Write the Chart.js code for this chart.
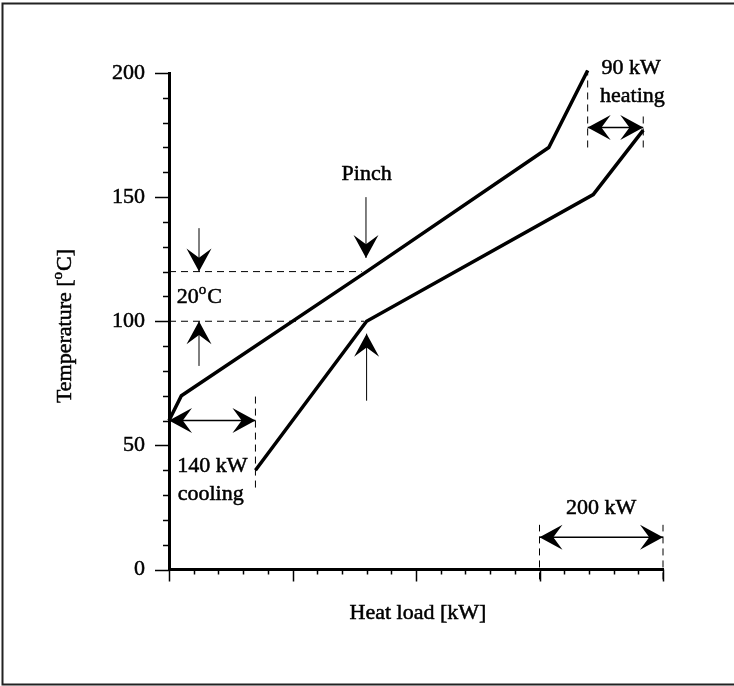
<!DOCTYPE html>
<html>
<head>
<meta charset="utf-8">
<script src="https://cdn.jsdelivr.net/npm/chart.js@4.4.1/dist/chart.umd.min.js"></script>
<style>
  html, body { margin: 0; padding: 0; background: #fff; }
  #wrap { width: 734px; height: 686px; }
</style>
</head>
<body>
<div id="wrap"><canvas id="pinch" width="734" height="686"></canvas></div>
<script>
// composite curves (heat load kW, temperature degC)
const hotLoad = [0, 20, 320, 615, 678];
const hotTemp = [60, 70, 120, 170, 201];
const coldLoad = [140, 320, 687, 768];
const coldTemp = [40, 100, 151, 177];

// labelled temperatures on the y axis
const tempTicks = [0, 50, 100, 150, 200];

// dashed guides, [from, to]
const guideLoad = [[0, 312], [0, 316], [140, 140], [678, 678], [768, 768], [600, 600], [800, 800]];
const guideTemp = [[120, 120], [100, 100], [33, 70], [170, 201], [170, 183], [-4, 18], [-4, 18]];

// arrows: start and end as [load, temp]; the first three have heads at both ends
const arrowStart = [[0, 60], [678, 178], [600, 13], [48.6, 137.5], [48.6, 82], [319, 150], [320, 68]];
const arrowEnd = [[140, 60], [768, 178], [800, 13], [48.6, 120], [48.6, 100], [319, 125.5], [320, 95]];
const doubleArrows = 3;

// text notes
const noteText = ['Pinch', '140 kW', 'cooling', '90 kW', 'heating', '200 kW'];
const noteLoad = [320, 13.4, 14, 700.6, 698, 700];
const noteTemp = [156.8, 39.4, 28, 199.6, 188.3, 22.2];
const noteAlign = ['center', 'left', 'left', 'left', 'left', 'center'];

const ink = '#000';
const serif = '"Liberation Serif", "Times New Roman", serif';
const textSize = 22;

function series(load, temp, width, dash) {
  return {
    data: load.map((x, i) => ({ x: x, y: temp[i] })),
    borderColor: ink,
    borderWidth: width,
    borderDash: dash || [],
    pointRadius: 0,
    showLine: true,
    fill: false,
    tension: 0,
    clip: false
  };
}

function arrowHead(ctx, x, y, ang) {
  const L = 23, W = 12.5;
  ctx.save();
  ctx.translate(x, y);
  ctx.rotate(ang);
  ctx.beginPath();
  ctx.moveTo(0, 0);
  ctx.lineTo(-L, -W);
  ctx.lineTo(-L * 0.6, 0);
  ctx.lineTo(-L, W);
  ctx.closePath();
  ctx.fill();
  ctx.restore();
}

// filled text with a faint outline so it reads as heavy as the lines
function ink_text(ctx, txt, x, y) {
  ctx.fillText(txt, x, y);
  ctx.strokeText(txt, x, y);
}

// text with a small raised "o" in the middle, e.g. 20 oC
function supText(ctx, parts, x, y, align) {
  const big = textSize + 'px ' + serif, small = '15px ' + serif;
  ctx.font = big;
  const w0 = ctx.measureText(parts[0]).width;
  const w2 = ctx.measureText(parts[2]).width;
  ctx.font = small;
  const w1 = ctx.measureText(parts[1]).width + 1;
  const sx = align === 'center' ? x - (w0 + w1 + w2) / 2 : x;
  ctx.textAlign = 'left';
  ctx.font = big;
  ink_text(ctx, parts[0], sx, y);
  ctx.font = small;
  ink_text(ctx, parts[1], sx + w0, y - 9);
  ctx.font = big;
  ink_text(ctx, parts[2], sx + w0 + w1, y);
}

const decor = {
  id: 'decor',
  beforeDraw(chart) {
    const ctx = chart.ctx;
    ctx.save();
    ctx.fillStyle = '#fff';
    ctx.fillRect(0, 0, chart.width, chart.height);
    ctx.strokeStyle = '#222';
    ctx.lineWidth = 2;
    ctx.beginPath();
    ctx.moveTo(734, 3.5);
    ctx.lineTo(2.5, 3.5);
    ctx.lineTo(2.5, 684.5);
    ctx.lineTo(734, 684.5);
    ctx.stroke();
    ctx.restore();
  },
  afterDraw(chart) {
    const ctx = chart.ctx;
    const xs = chart.scales.x, ys = chart.scales.y;
    ctx.save();
    ctx.strokeStyle = ink;
    ctx.fillStyle = ink;

    // tick marks, longer on the labelled ones
    ctx.lineWidth = 1.5;
    xs.ticks.forEach(t => {
      const px = Math.round(xs.getPixelForValue(t.value)) + 0.5;
      const len = t.value % 200 === 0 ? 12 : 5;
      ctx.beginPath();
      ctx.moveTo(px, xs.top);
      ctx.lineTo(px, xs.top + len);
      ctx.stroke();
    });
    ys.ticks.forEach(t => {
      const py = Math.round(ys.getPixelForValue(t.value)) + 0.5;
      const len = tempTicks.includes(t.value) ? 14 : 6;
      ctx.beginPath();
      ctx.moveTo(ys.right - len, py);
      ctx.lineTo(ys.right, py);
      ctx.stroke();
    });

    // arrows
    arrowStart.forEach((s, i) => {
      const e = arrowEnd[i];
      const x1 = xs.getPixelForValue(s[0]), y1 = ys.getPixelForValue(s[1]);
      const x2 = xs.getPixelForValue(e[0]), y2 = ys.getPixelForValue(e[1]);
      const ang = Math.atan2(y2 - y1, x2 - x1);
      ctx.lineWidth = i < doubleArrows ? 1.5 : 1;
      ctx.beginPath();
      ctx.moveTo(x1, y1);
      ctx.lineTo(x2, y2);
      ctx.stroke();
      arrowHead(ctx, x2, y2, ang);
      if (i < doubleArrows) arrowHead(ctx, x1, y1, ang + Math.PI);
    });

    // notes
    ctx.lineWidth = 0.5;
    ctx.font = textSize + 'px ' + serif;
    ctx.textBaseline = 'alphabetic';
    noteText.forEach((txt, i) => {
      ctx.textAlign = noteAlign[i];
      ink_text(ctx, txt, xs.getPixelForValue(noteLoad[i]), ys.getPixelForValue(noteTemp[i]));
    });
    supText(ctx, ['20', 'o', 'C'], xs.getPixelForValue(12.5), ys.getPixelForValue(107.2), 'left');

    // axis titles
    ctx.font = textSize + 'px ' + serif;
    ctx.textAlign = 'center';
    ink_text(ctx, 'Heat load [kW]', (xs.left + xs.right) / 2 + 2, 619);
    ctx.save();
    ctx.translate(64, 326);
    ctx.rotate(-Math.PI / 2);
    supText(ctx, ['Temperature [', 'o', 'C]'], 0, 7, 'center');
    ctx.restore();

    ctx.restore();
  }
};

new Chart(document.getElementById('pinch'), {
  type: 'scatter',
  data: {
    datasets: [
      series(hotLoad, hotTemp, 3.5),
      series(coldLoad, coldTemp, 3.5)
    ].concat(guideLoad.map((l, i) => series(l, guideTemp[i], 1, [7, 5])))
  },
  options: {
    responsive: false,
    animation: false,
    events: [],
    layout: { padding: { left: 0, right: 71, top: 73, bottom: 0 } },
    plugins: { legend: { display: false }, tooltip: { enabled: false } },
    scales: {
      x: {
        type: 'linear',
        min: 0,
        max: 800,
        ticks: { display: false, stepSize: 40 },
        grid: { display: true, drawOnChartArea: false, drawTicks: false },
        border: { display: true, color: ink, width: 3 },
        afterFit: s => { s.height = 116.5; }
      },
      y: {
        min: 0,
        max: 200,
        ticks: {
          stepSize: 10,
          autoSkip: false,
          padding: 24,
          color: ink,
          textStrokeColor: ink,
          textStrokeWidth: 0.5,
          font: { family: serif, size: textSize },
          callback: v => tempTicks.includes(v) ? String(v) : ''
        },
        grid: { display: true, drawOnChartArea: false, drawTicks: false },
        border: { display: true, color: ink, width: 3 },
        afterFit: s => { s.width = 169; }
      }
    }
  },
  plugins: [decor]
});
</script>
</body>
</html>
